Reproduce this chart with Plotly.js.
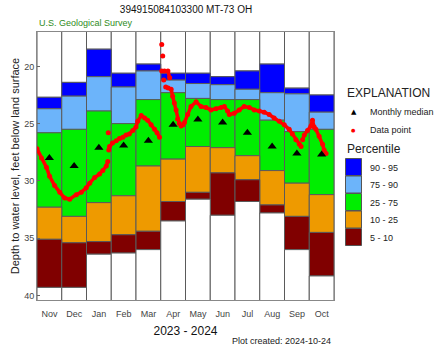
<!DOCTYPE html>
<html>
<head>
<meta charset="utf-8">
<script src="https://cdn.plot.ly/plotly-3.0.1.min.js"></script>
<style>html,body{margin:0;padding:0;background:#fff;}#chart{width:439px;height:351px;}</style>
</head>
<body>
<div id="chart"></div>
<script>
// ---- Data ----
const months = ['Nov','Dec','Jan','Feb','Mar','Apr','May','Jun','Jul','Aug','Sep','Oct'];
const recShallow = [15,15,15,15,15,15,15,15,15,15,15,15];
const p95 = [22.7,21.4,18.5,20.6,19.8,20.6,20.6,20.9,20.4,19.8,21.9,22.5];
const p90 = [23.7,22.6,20.9,21.8,20.4,21.2,21.5,21.6,22.0,22.3,22.4,24.0];
const p75 = [25.8,25.5,23.9,25.0,22.9,22.3,22.8,22.9,22.9,24.7,25.7,25.5];
const p25 = [32.3,33.1,31.9,31.3,28.7,28.1,27.0,27.1,27.8,29.1,30.2,31.2];
const p10 = [35.1,35.4,35.3,34.7,34.4,31.8,31.0,29.3,29.9,32.1,33.1,34.5];
const p5  = [39.3,39.3,36.4,36.3,36.0,33.5,31.6,33.0,31.8,32.8,36.0,38.3];
const recDeep = [41,41,41,41,41,41,41,41,41,41,41,41];
const medians = [28.0,28.7,27.1,26.9,26.5,25.1,24.65,24.9,25.8,27.0,27.6,27.7];
const percentileLabels = ['90 - 95','75 - 90','25 - 75','10 - 25','5 - 10'];

// daily observations: month offset since 1 Nov 2023, depth (ft); null = gap
const obsMonth = [0,0.18,0.38,0.51,0.71,0.92,1.12,1.32,1.59,1.79,1.99,2.13,2.33,2.53,2.66,2.80,2.86,null,
  2.88,null,
  2.90,2.93,3.05,3.20,3.33,3.47,3.60,3.73,3.87,4.00,4.07,4.21,4.35,4.47,4.61,4.75,4.85,4.95,null,
  5.04,null,5.08,null,5.04,5.15,null,5.29,5.36,null,5.12,null,
  5.20,5.30,5.42,5.48,5.55,5.62,5.68,5.75,5.82,5.90,5.96,6.09,6.22,6.43,6.63,6.83,7.03,7.23,7.44,7.57,7.70,7.77,7.97,
  8.17,8.37,8.58,8.78,8.98,9.18,9.38,9.58,9.79,9.99,10.19,10.32,10.46,10.60,10.67,null,
  10.73,10.80,10.93,11.07,11.13,11.20,11.27,11.40,11.54,11.60,11.68];
const obsDepth = [27.2,28.0,28.8,29.6,30.4,31.0,31.5,31.6,31.2,31.0,30.6,30.2,29.7,29.4,29.1,28.7,28.3,null,
  25.8,null,
  27.3,27.0,26.7,26.5,26.3,26.2,26.0,25.9,25.6,25.3,24.8,24.3,24.5,24.7,25.1,25.5,25.8,26.2,null,
  18.1,null,19.1,null,20.4,20.4,null,20.4,21.0,null,21.2,null,
  21.8,21.9,22.0,22.6,23.2,23.8,24.6,25.0,25.2,25.1,24.9,24.2,23.5,23.1,23.5,23.6,23.8,23.7,23.6,23.5,23.9,24.2,24.1,
  23.8,23.5,23.6,23.8,23.9,24.0,24.2,24.5,24.8,25.1,25.5,25.9,26.4,26.8,27.0,null,
  26.4,26.0,25.6,25.2,24.7,25.3,25.5,26.1,26.8,27.3,27.6];

// ---- Styling ----
const bandColors = ['#ffffff','#0000ff','#6cb4fa','#00ee00','#ee9a00','#800000','#ffffff'];
const edges = [recShallow,p95,p90,p75,p25,p10,p5,recDeep];
const xc = months.map((m,i)=>i+0.5);

const traces = [];
for (let b=0;b<7;b++){
  const lo = edges[b], hi = edges[b+1];
  traces.push({type:'bar', x:xc, base:lo, y:hi.map((v,i)=>v-lo[i]), width:1,
    marker:{color:bandColors[b], line:{color:'#5a5a5a', width:1}},
    hoverinfo:'skip', showlegend:false});
}
traces.push({type:'scatter', mode:'lines+markers', x:obsMonth, y:obsDepth, connectgaps:false,
  line:{color:'#ff0000', width:3.5}, marker:{color:'#ff0000', size:5}, showlegend:false, hoverinfo:'skip'});
traces.push({type:'scatter', mode:'markers', x:xc, y:medians,
  marker:{symbol:'triangle-up', color:'#000000', size:8}, showlegend:false, hoverinfo:'skip'});

// pixel -> paper helpers (plot area 37..334 x, 32..300 y)
const L=37,R=334,T=32,B=300;
const px = v => (v-L)/(R-L);
const py = v => (B-v)/(B-T);

const font = 'Liberation Sans, Arial, sans-serif';
const annotations = [
  {text:'U.S. Geological Survey', xref:'paper', yref:'paper', x:px(37), y:py(23), xanchor:'left', yanchor:'middle', showarrow:false, font:{family:font,size:9,color:'#2e8b22'}},
  {text:'Plot created: 2024-10-24', xref:'paper', yref:'paper', x:px(333), y:py(341), xanchor:'right', yanchor:'middle', showarrow:false, font:{family:font,size:9,color:'#222'}},
  {text:'EXPLANATION', xref:'paper', yref:'paper', x:px(345), y:py(93), xanchor:'left', yanchor:'middle', showarrow:false, font:{family:font,size:12,color:'#222'}},
  {text:'▲', xref:'paper', yref:'paper', x:px(353.5), y:py(112), xanchor:'center', yanchor:'middle', showarrow:false, font:{family:'DejaVu Sans',size:7,color:'#000'}},
  {text:'Monthly median', xref:'paper', yref:'paper', x:px(368), y:py(112), xanchor:'left', yanchor:'middle', showarrow:false, font:{family:font,size:9,color:'#222'}},
  {text:'●', xref:'paper', yref:'paper', x:px(353.5), y:py(130), xanchor:'center', yanchor:'middle', showarrow:false, font:{family:'DejaVu Sans',size:5,color:'#ff0000'}},
  {text:'Data point', xref:'paper', yref:'paper', x:px(368), y:py(130), xanchor:'left', yanchor:'middle', showarrow:false, font:{family:font,size:9,color:'#222'}},
  {text:'Percentile', xref:'paper', yref:'paper', x:px(345), y:py(149), xanchor:'left', yanchor:'middle', showarrow:false, font:{family:font,size:12,color:'#222'}}
];
const shapes = [];
const boxTops = [158.5,176,193.5,211,228.5];
for (let k=0;k<5;k++){
  shapes.push({type:'rect', xref:'paper', yref:'paper', x0:px(345.5), x1:px(361.5), y0:py(boxTops[k]), y1:py(boxTops[k]+17),
    fillcolor:bandColors[k+1], line:{color:'#555', width:1}});
  annotations.push({text:percentileLabels[k], xref:'paper', yref:'paper', x:px(368), y:py(boxTops[k]+9), xanchor:'left', yanchor:'middle', showarrow:false, font:{family:font,size:9,color:'#222'}});
}

const layout = {
  width:439, height:351,
  margin:{l:L, r:439-R, t:T, b:351-B, pad:0},
  paper_bgcolor:'#fff', plot_bgcolor:'#fff',
  barmode:'overlay', bargap:0,
  title:{text:'394915084103300 MT-73 OH', xref:'container', x:186/439, xanchor:'center', yref:'container', y:1-9/351, yanchor:'middle', font:{family:font,size:10,color:'#111'}},
  xaxis:{range:[0,12], tickvals:xc, ticktext:months, ticks:'', showgrid:false, zeroline:false,
    showline:true, mirror:true, linecolor:'#888', linewidth:1, ticklabelstandoff:5,
    tickfont:{family:font,size:9,color:'#444'},
    title:{text:'2023 - 2024', font:{family:font,size:12,color:'#111'}, standoff:8}},
  yaxis:{range:[40.4,17.0], tickvals:[20,25,30,35,40], ticks:'inside', ticklen:3, tickcolor:'#666',
    showgrid:false, zeroline:false, showline:true, mirror:true, linecolor:'#888', linewidth:1,
    tickfont:{family:font,size:9,color:'#444'},
    title:{text:'Depth to water level, feet below land surface', font:{family:font,size:11,color:'#222'}, standoff:2}},
  annotations:annotations, shapes:shapes, showlegend:false
};
Plotly.newPlot('chart', traces, layout, {staticPlot:true, displayModeBar:false});
</script>
</body>
</html>
